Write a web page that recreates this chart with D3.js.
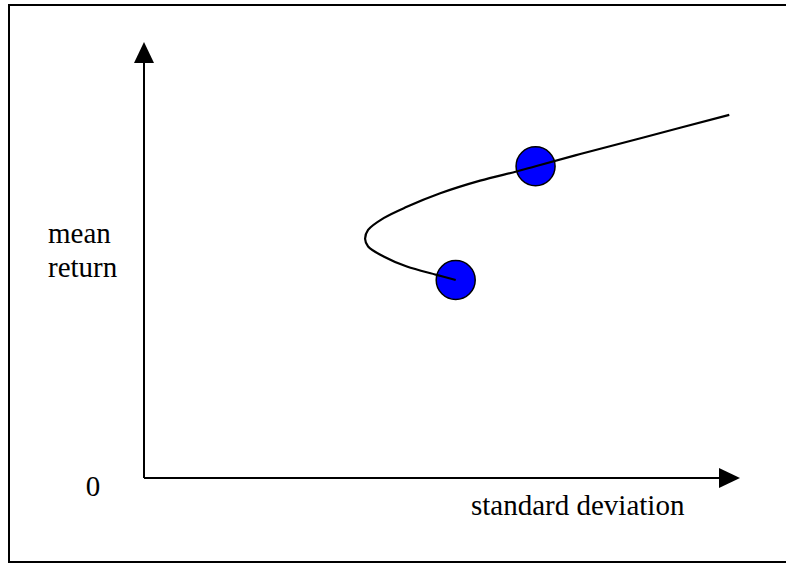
<!DOCTYPE html>
<html>
<head>
<meta charset="utf-8">
<script src="https://cdn.jsdelivr.net/npm/d3@7"></script>
<style>
    html, body { margin: 0; padding: 0; background: #fff; }
    svg { display: block; }
    text { font-family: "Liberation Serif", "Times New Roman", serif; fill: #000; }
</style>
</head>
<body>
<script>
// Efficient frontier (sigma, mean) in axis units
const frontierSigma = [5.23, 4.91, 4.41, 4.02, 3.76, 3.71, 3.76, 4.02, 4.41, 4.97, 5.64, 6.25, 6.57, 7.32, 8.38, 9.82];
const frontierMean = [4.54, 4.66, 4.85, 5.08, 5.31, 5.48, 5.69, 5.96, 6.22, 6.53, 6.82, 7.03, 7.15, 7.43, 7.81, 8.33];

// The two assets marked with dots
const assetSigma = [5.23, 6.57];
const assetMean = [4.54, 7.15];

// Labels
const xLabel = "standard deviation";
const yLabel = ["mean", "return"];
const originLabel = "0";

const width = 786;
const height = 563;

const svg = d3.select("body")
    .append("svg")
    .attr("width", width)
    .attr("height", height);

// Outer frame (right edge sits past the window, like the reference)
svg.append("rect")
    .attr("x", 9)
    .attr("y", 5)
    .attr("width", 790)
    .attr("height", 557)
    .attr("fill", "none")
    .attr("stroke", "#000")
    .attr("stroke-width", 2);

// Scales | axis units to pixels
const x = d3.scaleLinear().domain([0, 10]).range([144, 740]);
const y = d3.scaleLinear().domain([0, 10]).range([478, 42]);

const head = 21; // arrowhead length
const half = 10; // arrowhead half width

// Y axis with arrow
svg.append("line")
    .attr("x1", x(0)).attr("y1", y(0))
    .attr("x2", x(0)).attr("y2", y(10) + head)
    .attr("stroke", "#000")
    .attr("stroke-width", 2);
svg.append("path")
    .attr("d", `M${x(0)},${y(10)}L${x(0) - half},${y(10) + head}L${x(0) + half},${y(10) + head}Z`)
    .attr("fill", "#000");

// X axis with arrow
svg.append("line")
    .attr("x1", x(0)).attr("y1", y(0))
    .attr("x2", x(10) - head).attr("y2", y(0))
    .attr("stroke", "#000")
    .attr("stroke-width", 2);
svg.append("path")
    .attr("d", `M${x(10)},${y(0)}L${x(10) - head},${y(0) - half}L${x(10) - head},${y(0) + half}Z`)
    .attr("fill", "#000");

// Frontier curve
const frontier = frontierSigma.map((s, i) => [s, frontierMean[i]]);
const line = d3.line()
    .x((d) => x(d[0]))
    .y((d) => y(d[1]))
    .curve(d3.curveCatmullRom.alpha(0.5));

// Asset dots
svg.append("g")
    .selectAll("circle")
    .data(assetSigma.map((s, i) => [s, assetMean[i]]))
    .enter()
    .append("circle")
    .attr("cx", (d) => x(d[0]))
    .attr("cy", (d) => y(d[1]))
    .attr("r", 19.5)
    .attr("fill", "#0000ff")
    .attr("stroke", "#000")
    .attr("stroke-width", 1.5);

// Curve goes on top of the dots
svg.append("path")
    .datum(frontier)
    .attr("d", line)
    .attr("fill", "none")
    .attr("stroke", "#000")
    .attr("stroke-width", 2.2);

// Text
svg.append("text")
    .attr("x", 471)
    .attr("y", 515)
    .attr("font-size", 29)
    .text(xLabel);

svg.append("g")
    .selectAll("text")
    .data(yLabel)
    .enter()
    .append("text")
    .attr("x", 48)
    .attr("y", (d, i) => 243 + i * 34)
    .attr("font-size", 29)
    .text((d) => d);

svg.append("text")
    .attr("x", 93)
    .attr("y", 496)
    .attr("text-anchor", "middle")
    .attr("font-size", 29)
    .text(originLabel);
</script>
</body>
</html>
